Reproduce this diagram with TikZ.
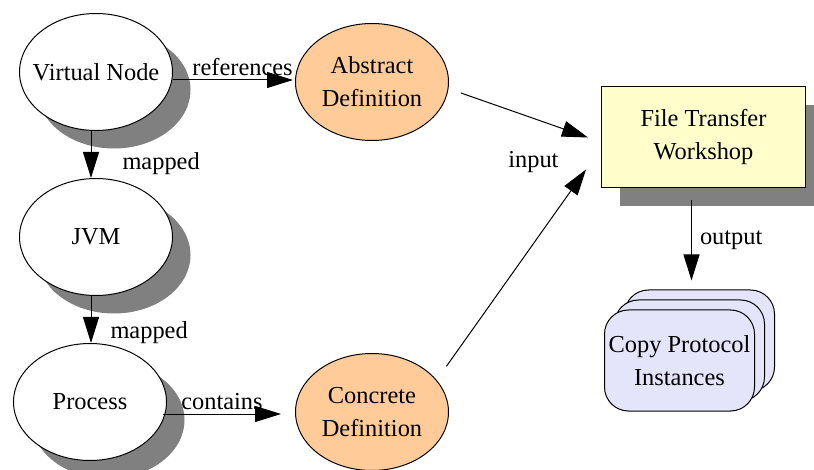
\documentclass[tikz,border=0pt]{standalone}
\usepackage{fontspec}
\setmainfont{Liberation Serif}
\usetikzlibrary{arrows.meta, positioning, shapes.geometric, shadows}
\definecolor{defpeach}{HTML}{FFCC99}
\definecolor{wsyellow}{HTML}{FFFFCC}
\definecolor{cplav}{HTML}{E4E4FA}
\definecolor{shadegray}{HTML}{808080}

\begin{document}
\begin{tikzpicture}[
        x=0.5pt, y=-0.5pt,
        font=\rmfamily\fontsize{12.2}{16.5}\selectfont,
        dropsh/.style={drop shadow={shadow xshift=9pt, shadow yshift=-9pt,
                       fill=shadegray, opacity=1}},
        elli/.style={ellipse, draw, line width=0.5pt, minimum width=76.5pt,
                     minimum height=58.5pt, inner sep=-5pt, align=center},
        vm/.style={elli, fill=white, dropsh},
        defn/.style={elli, fill=defpeach},
        ws/.style={draw, line width=0.5pt, fill=wsyellow, minimum width=102pt,
                   minimum height=50.5pt, align=center, dropsh},
        copybox/.style={draw, line width=0.5pt, fill=cplav, rounded corners=12pt,
                        minimum width=75pt, minimum height=50.5pt,
                        align=center, inner sep=0pt},
        arr/.style={-{Triangle[length=13pt, width=8pt]}, line width=0.5pt},
        lab/.style={inner sep=2pt},
      ]
        \useasboundingbox (0,0) rectangle (814,470);
        \node[vm] (vn) at (96,72) {Virtual Node};
        \node[vm, below=23.5pt of vn] (jvm) {JVM};
        \node[vm, below=23.5pt of jvm, xshift=-3pt] (proc) {Process};
        \node[defn, right=61pt of vn, yshift=-5pt] (abs) {Abstract\\Definition};
        \node[defn, right=64pt of proc, yshift=-5pt] (con) {Concrete\\Definition};
        \node[ws, right=76pt of abs, yshift=-27.75pt] (ftw) {File Transfer\\Workshop};
        \node[copybox, below=50.5pt of ftw, xshift=-2pt] (cpback) {};
        \node[copybox] (cpmid) at ([shift={(-10,10)}]cpback) {};
        \node[copybox] (cp) at ([shift={(-10,10)}]cpmid) {Copy Protocol\\Instances};
        \draw[arr] ([yshift=-4pt]vn.east) -- node[lab, pos=.58, above] (lref) {references}
              ([shift={(-2,-2)}]abs.west);
        \draw[arr] ([xshift=-2.5pt]vn.south) -- node[lab, pos=.7, right, xshift=13.5pt] (lmap1) {mapped}
              ([xshift=-2.5pt]jvm.north);
        \draw[arr] ([xshift=-2.5pt]jvm.south) -- node[lab, pos=.77, right, xshift=7.5pt] (lmap2) {mapped}
              ([xshift=0.5pt]proc.north);
        \draw[arr] ([shift={(-4,12)}]proc.east) -- node[lab, pos=.5, above] (lcont) {contains}
              ([shift={(-14,2)}]con.west);
        \draw[arr] ([shift={(12,11)}]abs.east) -- ([xshift=-6.5pt]ftw.west);
        \draw[arr] ([shift={(20,-4)}]con.north east) --
              node[lab, pos=1, anchor=east, xshift=-11.5pt, yshift=3.5pt] (linput) {input}
              ([shift={(-15,-19)}]ftw.south west);
        \draw[arr] ([shift={(-12,12)}]ftw.south) -- node[lab, pos=.5, right, xshift=2pt] (lout) {output}
              ([shift={(12,-29)}]cp.north);
      \end{tikzpicture}
\end{document}
